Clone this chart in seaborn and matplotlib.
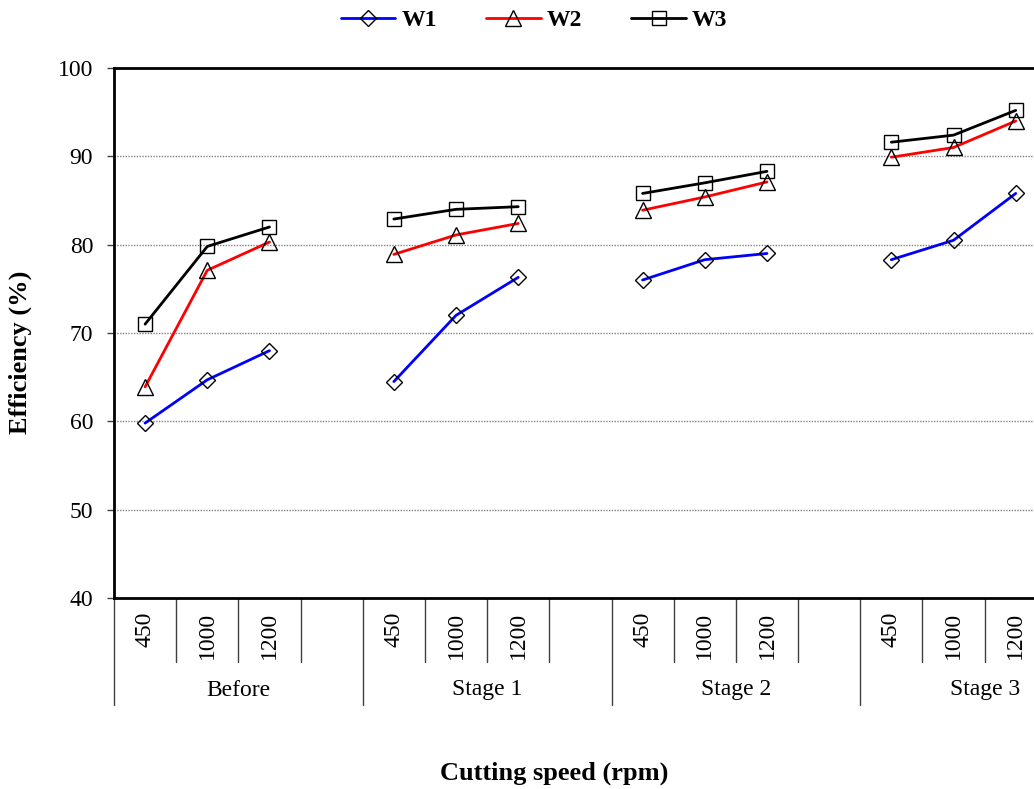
import numpy as np
import pandas as pd
import matplotlib
matplotlib.use("Agg")
import matplotlib.pyplot as plt
from matplotlib.lines import Line2D
from matplotlib.transforms import blended_transform_factory
import seaborn as sns

# Efficiency (%) per workpiece, grouped by stage, at each cutting speed
stages = ["Before", "Stage 1", "Stage 2", "Stage 3"]
speeds = ["450", "1000", "1200"]
w1 = [59.8, 64.7, 68.0, 64.5, 72.0, 76.3, 76.0, 78.3, 79.0, 78.3, 80.5, 85.8]
w2 = [63.9, 77.1, 80.3, 78.9, 81.1, 82.4, 83.9, 85.4, 87.1, 89.9, 91.0, 94.0]
w3 = [71.0, 79.8, 82.0, 82.9, 84.0, 84.3, 85.8, 87.0, 88.3, 91.6, 92.4, 95.2]
series_names = ["W1", "W2", "W3"]
series_values = [w1, w2, w3]
colors = {"W1": "#0000ff", "W2": "#ff0000", "W3": "#000000"}
markers = {"W1": "D", "W2": "^", "W3": "s"}
marker_sizes = {"W1": 7.8, "W2": 11, "W3": 10.5}

# each stage occupies four category slots (three speeds plus a spacer)
slots_per_stage = len(speeds) + 1
rows = []
for name, vals in zip(series_names, series_values):
    for i, st in enumerate(stages):
        for j, sp in enumerate(speeds):
            rows.append({"series": name, "stage": st, "speed": sp,
                         "pos": i * slots_per_stage + j,
                         "eff": vals[i * len(speeds) + j]})
df = pd.DataFrame(rows)

sns.set_theme(style="white")
plt.rcParams["font.family"] = ["Liberation Serif", "DejaVu Serif"]
plt.rcParams.update({"text.color": "black", "axes.labelcolor": "black",
                     "xtick.color": "black", "ytick.color": "black"})

W, H = 1034, 789
fig = plt.figure(figsize=(W / 100, H / 100), dpi=100)
n_slots = len(stages) * slots_per_stage
ax = fig.add_axes([114 / W, 1 - 598 / H, 995 / W, 530 / H])

for name in series_names:
    sub = df[df["series"] == name]
    sns.lineplot(data=sub, x="pos", y="eff", units="stage", estimator=None,
                 color=colors[name], marker=markers[name],
                 markersize=marker_sizes[name], markerfacecolor="none",
                 markeredgecolor="black", markeredgewidth=1.0,
                 linewidth=2.0, legend=False, ax=ax, zorder=3)

ax.set_xlim(-0.5, n_slots - 0.5)
ax.set_ylim(40, 100)
ax.set_yticks(np.arange(40, 101, 10))
ax.tick_params(axis="y", which="major", direction="out", length=5, width=1,
               color="#404040", labelcolor="black", labelsize=17, pad=10,
               left=True)
for v in range(50, 100, 10):
    ax.axhline(v, color="#808080", lw=1.0, ls=(0, (1, 1)), zorder=1)

for sp in ax.spines.values():
    sp.set_color("black")
    sp.set_linewidth(2.0)

# categorical x axis: speed labels per slot, stage labels beneath
centers = [i * slots_per_stage + j for i in range(len(stages)) for j in range(len(speeds))]
ax.set_xticks(centers)
ax.set_xticklabels(speeds * len(stages), rotation=90, fontsize=17)
ax.tick_params(axis="x", length=0, pad=10, labelcolor="black")
ax.set_xlabel("")
ax.set_ylabel("")

trans = blended_transform_factory(ax.transData, ax.transAxes)
short = -64 / 530
long_ = -107 / 530
for k in range(n_slots + 1):
    edge = k - 0.5
    depth = long_ if k % slots_per_stage == 0 else short
    ax.plot([edge, edge], [0, depth], transform=trans, color="#404040",
            lw=1.0, clip_on=False)
for i, st in enumerate(stages):
    cx = i * slots_per_stage + (slots_per_stage - 1) / 2
    ax.text(cx, -92 / 530, st, transform=trans, ha="center", va="center",
            fontsize=17, color="black")

fig.text(20 / W, 1 - 352 / H, "Efficiency (%)", rotation=90, ha="center",
         va="center", fontsize=19, fontweight="bold", color="black")
fig.text(554 / W, 1 - 773 / H, "Cutting speed (rpm)", ha="center",
         va="center", fontsize=19, fontweight="bold", color="black")

handles = [Line2D([], [], color=colors[n], lw=2.0, marker=markers[n],
                  markersize=marker_sizes[n], markerfacecolor="none",
                  markeredgecolor="black", markeredgewidth=1.0)
           for n in series_names]
fig.legend(handles, series_names, loc="center",
           bbox_to_anchor=(534 / W, 1 - 20 / H), ncol=3, frameon=False,
           prop={"weight": "bold", "size": 17}, handlelength=2.3,
           handletextpad=0.25, columnspacing=2.1, labelcolor="black")

fig.savefig("out.png", dpi=100)
